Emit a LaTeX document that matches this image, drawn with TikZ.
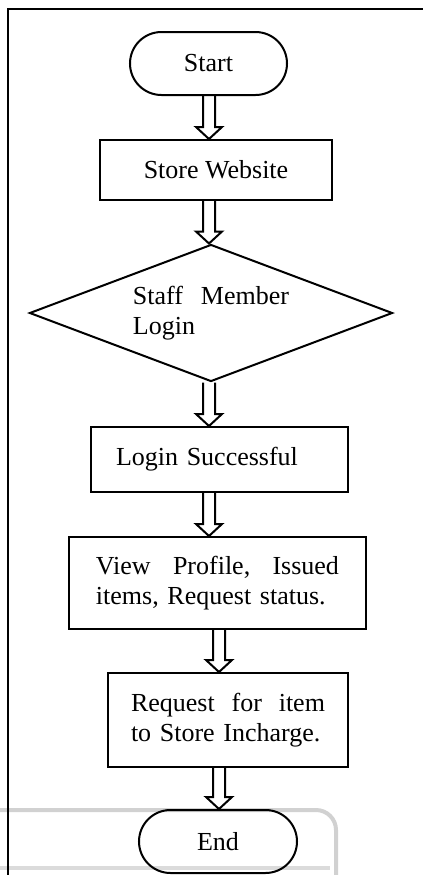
\documentclass[tikz,border=0pt]{standalone}
\usepackage{fontspec}
\setmainfont{Liberation Serif}
\usetikzlibrary{shapes.geometric,shapes.misc,calc}

% hollow block arrow from node #1 down to node #2, at x = #3
\newcommand{\blockarrow}[3]{%
  \draw[arrow line] ($(#3,0 |- #1.south)+(-6,0)$) -- ($(#3,0 |- #2.north)+(-6,-12)$)
    -- ($(#3,0 |- #2.north)+(-13,-12)$) -- (#3,0 |- #2.north)
    -- ($(#3,0 |- #2.north)+(13,-12)$) -- ($(#3,0 |- #2.north)+(6,-12)$)
    -- ($(#3,0 |- #1.south)+(6,0)$);}

\begin{document}
\begin{tikzpicture}[x=0.5pt,y=-0.5pt,
  every node/.style={font=\fontsize{13}{15}\selectfont},
  term node/.style={rounded rectangle,draw,line width=1pt,minimum width=78.5pt,minimum height=31.5pt,inner sep=0pt},
  box node/.style={rectangle,draw,line width=1pt,align=left,inner ysep=0pt},
  dec node/.style={diamond,draw,line width=1pt,aspect=2.65,minimum width=181.5pt,minimum height=68.5pt,inner sep=0pt,align=left},
  arrow line/.style={line width=1pt,line join=miter},
  shadow line/.style={line width=2pt,black!18}]

  \useasboundingbox (0,0) rectangle (423,875);

  % faint shadow of the next box
  \draw[shadow line,rounded corners=10pt] (0,810) -- (336,810) -- (336,875);
  \draw[shadow line,black!14] (0,868) -- (330,868);

  % frame
  \draw[line width=1pt] (8,875) -- (8,9) -- (423,9);

  \node[term node] (start) at (208.5,63.5) {Start};
  \node[box node,minimum width=116pt,minimum height=30pt,align=center] (site) at (216,170) {Store Website};
  \node[dec node] (login) at (211,313) {Staff\hspace{9pt}Member\\Login};
  \node[box node,minimum height=32.5pt,text width=103.5pt,inner xsep=12.5pt] (ok) at (219.5,459.5) {Login Successful};
  \node[box node,minimum height=46pt,text width=121.5pt,inner xsep=13.5pt] (view) at (217.5,583) {View\hfill Profile,\hfill Issued\\items, Request status.};
  \node[box node,minimum height=47pt,text width=97pt,inner xsep=11.5pt] (req) at (228,720) {Request\hfill for\hfill item\\to Store Incharge.};
  \node[term node,minimum width=79pt] (end) at (218,841.5) {End};

  \blockarrow{start}{site}{209}
  \blockarrow{site}{login}{209}
  \blockarrow{login}{ok}{209}
  \blockarrow{ok}{view}{209}
  \blockarrow{view}{req}{219}
  \blockarrow{req}{end}{219}
\end{tikzpicture}
\end{document}
